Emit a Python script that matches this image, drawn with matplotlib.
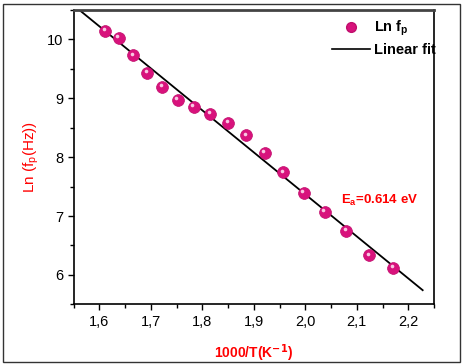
import numpy as np
import matplotlib
matplotlib.use("Agg")
import matplotlib.pyplot as plt
from matplotlib.ticker import MultipleLocator, FuncFormatter
from matplotlib.lines import Line2D
from matplotlib.patches import Rectangle
from matplotlib.transforms import offset_copy

plt.rcParams['font.family'] = ['Liberation Sans', 'DejaVu Sans']

# data
inv_t = [1.611, 1.638, 1.666, 1.693, 1.722, 1.752, 1.783, 1.815, 1.850,
         1.885, 1.921, 1.957, 1.997, 2.038, 2.080, 2.124, 2.171]
ln_fp = [10.15, 10.02, 9.73, 9.43, 9.20, 8.97, 8.86, 8.73, 8.58,
         8.37, 8.07, 7.74, 7.39, 7.07, 6.75, 6.33, 6.12]
fit_x = [1.561, 2.228]
fit_y = [10.50, 5.74]

fig = plt.figure(figsize=(4.62, 3.64), dpi=100)
ax = fig.add_axes([73.7/462, 1-304.3/364, (434-73.7)/462, (304.3-10)/364])

# fit line
ax.plot(fit_x, fit_y, color='black', lw=1.3, zorder=2)

# points (with a lighter spot to look like the shaded spheres)
ax.plot(inv_t, ln_fp, 'o', ms=8.5, color='#d8127c', mec='#c00e6c', mew=0.5, ls='none', zorder=3)
shine = offset_copy(ax.transData, fig=fig, x=-1.5, y=1.8, units='dots')
ax.plot(inv_t, ln_fp, 'o', ms=2.6, color='#f8c8e2', mec='none', ls='none', zorder=4, transform=shine)

ax.set_xlim(1.55, 2.25)
ax.set_ylim(5.5, 10.5)
ax.xaxis.set_major_locator(MultipleLocator(0.1))
ax.xaxis.set_minor_locator(MultipleLocator(0.05))
ax.yaxis.set_major_locator(MultipleLocator(1))
ax.yaxis.set_minor_locator(MultipleLocator(0.5))
ax.xaxis.set_major_formatter(FuncFormatter(lambda v, p: ('%.1f' % v).replace('.', ',')))
ax.yaxis.set_major_formatter(FuncFormatter(lambda v, p: '%d' % round(v)))
ax.tick_params(which='both', direction='out', top=False, right=False, width=1.0, labelsize=10.5)
ax.tick_params(which='major', length=4)
ax.tick_params(which='minor', length=3)
for s in ['left', 'bottom']:
    ax.spines[s].set_linewidth(1.2)
ax.spines['top'].set_linewidth(2)
ax.spines['top'].set_color('#444444')
ax.spines['right'].set_linewidth(1.2)

ax.set_xlabel('1000/T(K$^{\\mathbf{-1}}$)', color='red', fontsize=10, fontweight='bold', labelpad=10)
ax.set_ylabel('Ln (f$_\\mathregular{p}$(Hz))', color='red', fontsize=11, labelpad=4)

ax.text(2.069, 7.26, 'E$_\\mathregular{a}$=0.614 eV', color='red', fontsize=9.5, fontweight='bold', va='center')

handles = [Line2D([], [], marker='o', ls='none', ms=7, color='#d8127c', mec='#c00e6c'),
           Line2D([], [], color='black', lw=1.2)]
ax.legend(handles, ['Ln f$_\\mathregular{p}$', 'Linear fit'], loc='upper right',
          frameon=False, prop={'weight': 'bold', 'size': 10.5},
          borderaxespad=0.2, handlelength=2.6, handletextpad=0.3, labelspacing=0.3,
          bbox_to_anchor=(1.03, 1.0))

# outer border of the picture
fig.patches.append(Rectangle((3/462, 2/364), 457/462, 358/364, transform=fig.transFigure,
                             fill=False, edgecolor='#333333', lw=1.0))

fig.savefig('out.png', dpi=100)
